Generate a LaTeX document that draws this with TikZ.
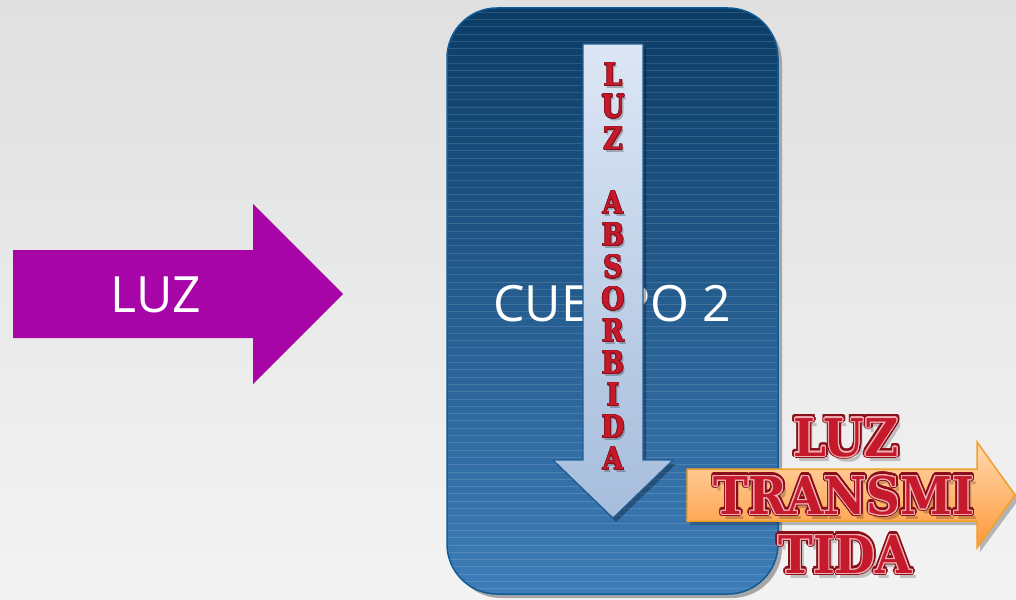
\documentclass[tikz,border=0pt]{standalone}
\usepackage{fontspec}
\setmainfont{Open Sans}
\newfontfamily\redfont{DejaVu Serif}
\usepackage{contour}
\contournumber{16}
\definecolor{bgtop}{HTML}{E0E0E0}
\definecolor{bgbot}{HTML}{F3F3F3}
\definecolor{luzpurple}{HTML}{A805A8}
\definecolor{boxtop}{HTML}{0B3C66}
\definecolor{boxbot}{HTML}{3E7DB8}
\definecolor{boxedge}{HTML}{0F5C98}
\definecolor{arrtop}{HTML}{DCE6F4}
\definecolor{arrbot}{HTML}{A6BDDC}
\definecolor{arredge}{HTML}{1F5F96}
\definecolor{orgtop}{HTML}{FFD9B0}
\definecolor{orgbot}{HTML}{FF9838}
\definecolor{orgedge}{HTML}{F2A02A}
\definecolor{redfill}{HTML}{C41A2C}
\definecolor{reddark}{HTML}{8A0F1A}
\definecolor{redline}{HTML}{F0B0B4}
\tikzset{
  bigred/.style={font=\redfont\bfseries\fontsize{52}{52}\selectfont, xscale=0.9, inner sep=0pt},
  vred/.style={font=\redfont\bfseries\fontsize{31}{31}\selectfont, xscale=0.85, inner sep=0pt},
  whitetxt/.style={text=white, inner sep=0pt}
}
\newcommand{\redword}[1]{\contourlength{1.1pt}\contour{redline}{\textcolor{redfill}{#1}}}
\newcommand{\redouter}[1]{\contourlength{3pt}\contour{reddark}{\textcolor{reddark}{#1}}}
\begin{document}
\begin{tikzpicture}[x=1pt,y=-1pt]
\useasboundingbox (0,0) rectangle (1016,599);
\fill[top color=bgtop, bottom color=bgbot] (0,0) rectangle (1016,599);
% purple arrow
\fill[luzpurple] (13,250) -- (253,250) -- (253,204) -- (343,294) -- (253,384) -- (253,338) -- (13,338) -- cycle;
\node[whitetxt, font=\fontsize{50}{50}\selectfont] (luz) at (156,295) {LUZ};
% body box
\fill[black!35, rounded corners=50] (451,13) rectangle (782,598);
\path[rounded corners=50, top color=boxtop, bottom color=boxbot] (447,8) rectangle (778,594);
\begin{scope}
\clip[rounded corners=50] (447,8) rectangle (778,594);
\foreach \yy in {0,...,80} \draw[white, opacity=0.13, line width=0.7] (447,12+7.3*\yy) -- (778,12+7.3*\yy);
\end{scope}
\draw[boxedge, line width=1.5, rounded corners=50] (447,8) rectangle (778,594);
\node[whitetxt, font=\fontsize{50}{50}\selectfont] (cuerpo) at (612,304) {CUERPO 2};
% absorbed arrow
\fill[black, opacity=0.3] (586,48) -- (646,48) -- (646,464) -- (676,464) -- (616,522) -- (556,464) -- (586,464) -- cycle;
\path[top color=arrtop, bottom color=arrbot, draw=arredge, line width=1.2] (583,44) -- (643,44) -- (643,460) -- (673,460) -- (613,518) -- (553,460) -- (583,460) -- cycle;
\foreach \ch [count=\i] in {L,U,Z,{},A,B,S,O,R,B,I,D,A} {
  \node[vred, text=black, opacity=0.25] at (615,77+32*\i-32) {\ch};
  \node[vred] (v\i) at (613,75+32*\i-32) {\contourlength{0.8pt}\contour{reddark}{\textcolor{redfill}{\ch}}};
}
% transmitted arrow
\fill[black, opacity=0.25] (690,473) -- (980,473) -- (980,446) -- (1019,499) -- (980,552) -- (980,525) -- (690,525) -- cycle;
\path[top color=orgtop, bottom color=orgbot, draw=orgedge, line width=1.5] (687,469) -- (977,469) -- (977,442) -- (1015,495) -- (977,548) -- (977,521) -- (687,521) -- cycle;
% transmitted text
\foreach \w/\x/\y/\n in {LUZ/846/438/t1, TRANSMI/844/496/t2, TIDA/845/555/t3} {
  \node[bigred, text=black, opacity=0.2] at (\x+4,\y+5) {\w};
  \node[bigred] at (\x,\y) {\redouter{\w}};
  \node[bigred] (\n) at (\x,\y) {\redword{\w}};
}
\end{tikzpicture}
\end{document}
